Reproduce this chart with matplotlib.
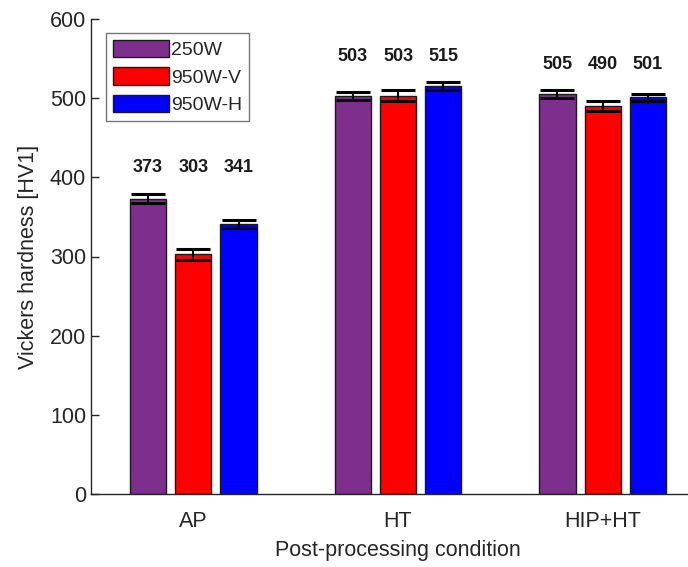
import matplotlib
matplotlib.use("Agg")
import matplotlib.pyplot as plt
import numpy as np

# Vickers hardness by post-processing condition and build setting
conditions = ["AP", "HT", "HIP+HT"]
series = ["250W", "950W-V", "950W-H"]
hv_250w = [373, 503, 505]
hv_950w_v = [303, 503, 490]
hv_950w_h = [341, 515, 501]
err_250w = [6, 5, 5]
err_950w_v = [7, 7, 6]
err_950w_h = [5, 5, 4]
colors = ["#7E2F8E", "#FF0000", "#0000FF"]

plt.rcParams['font.family'] = ['Liberation Sans', 'DejaVu Sans']
axis_grey = "#262626"

fig = plt.figure(figsize=(6.88, 5.67), dpi=100)
ax = fig.add_axes([91 / 688, 73 / 567, (705 - 91) / 688, 475 / 567])

x = np.arange(1, len(conditions) + 1)
offsets = [-0.221, 0.0, 0.221]
width = 0.177
values = [hv_250w, hv_950w_v, hv_950w_h]
errors = [err_250w, err_950w_v, err_950w_h]

for vals, errs, off, col, name in zip(values, errors, offsets, colors, series):
    ax.bar(x + off, vals, width, color=col, edgecolor="#1a1a1a", linewidth=1.0,
           label=name, zorder=2)
    ax.errorbar(x + off, vals, yerr=errs, fmt="none", ecolor="black",
                elinewidth=1.5, capsize=12, capthick=2.2, zorder=3)

# value labels sit a fixed distance above the tallest error bar in each group
for i in range(len(conditions)):
    top = max(v[i] + e[i] for v, e in zip(values, errors))
    for vals, off in zip(values, offsets):
        ax.text(x[i] + off, top + 33, f"{vals[i]}", ha="center", va="center",
                fontsize=13, fontweight="bold", color="#1a1a1a")

ax.set_xlim(0.5, 3.5)
ax.set_ylim(0, 600)
ax.set_yticks([0, 100, 200, 300, 400, 500, 600])
ax.set_xticks(x)
ax.set_xticklabels(conditions)

for side in ("top", "right"):
    ax.spines[side].set_visible(False)
for side in ("left", "bottom"):
    ax.spines[side].set_color(axis_grey)
    ax.spines[side].set_linewidth(1.0)

ax.tick_params(direction="in", length=6, width=1.0, colors=axis_grey,
               labelsize=15.5, labelcolor=axis_grey)
ax.tick_params(axis="x", pad=12)

ax.set_ylabel("Vickers hardness [HV1]", fontsize=15.5, color=axis_grey, labelpad=8)
ax.set_xlabel("Post-processing condition", fontsize=15.5, color=axis_grey, labelpad=6)

leg = ax.legend(loc="upper left", bbox_to_anchor=(15 / 614, 1 - 14 / 475),
                fontsize=14, frameon=True, fancybox=False, handlelength=2.9,
                handleheight=1.0, handletextpad=0.1, borderpad=0.35,
                labelspacing=0.42, borderaxespad=0)
leg.get_frame().set_edgecolor("#555555")
leg.get_frame().set_linewidth(1.0)
for t in leg.get_texts():
    t.set_color(axis_grey)

fig.savefig("out.png", dpi=100)
